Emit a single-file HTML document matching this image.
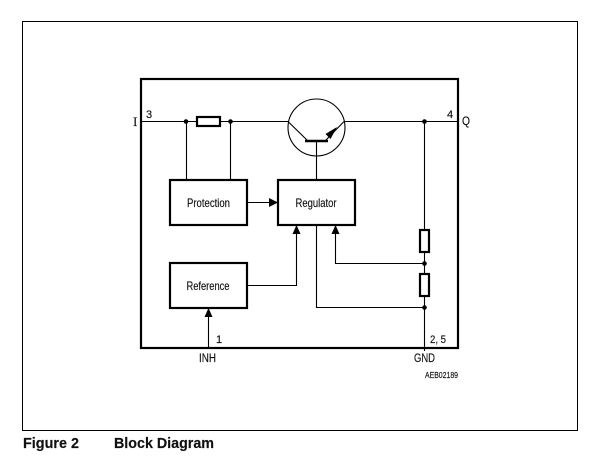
<!DOCTYPE html>
<html>
<head>
<meta charset="utf-8">
<style>
html,body{margin:0;padding:0;background:#fff;width:603px;height:459px;overflow:hidden}
svg{display:block}
text{font-family:"Liberation Sans",sans-serif;fill:#111;stroke:#111;stroke-width:0.15}
</style>
</head>
<body>
<svg width="603" height="459" viewBox="0 0 603 459" xmlns="http://www.w3.org/2000/svg">
<rect width="603" height="459" fill="#fff"/>
<rect x="22.5" y="21.5" width="555" height="409" fill="none" stroke="#000" stroke-width="1"/>
<rect x="141" y="79" width="317" height="269" fill="none" stroke="#000" stroke-width="2.2"/>

<g fill="none" stroke="#000" stroke-width="1.1">
<path d="M141 121.5H197M220 121.5H288M345 121.5H458"/>
<path d="M186.5 121.5V180M230.5 121.5V180"/>
<circle cx="316.5" cy="127.5" r="28.5"/>
<path d="M288 121.5L308 141"/>
<path d="M344 121.5L325 141"/>
<path d="M316.5 141V180"/>
<path d="M247 202.5H270"/>
<path d="M247 285.5H296.5V233"/>
<path d="M335.5 233V263.5H424.5"/>
<path d="M316.5 224V307.5H424.5"/>
<path d="M424.5 121.5V230M424.5 252V274M424.5 296V351"/>
<path d="M208.5 348V314"/>
</g>

<g fill="#fff" stroke="#000" stroke-width="2.2">
<rect x="197" y="117" width="23" height="9"/>
<rect x="420" y="230" width="9" height="22"/>
<rect x="420" y="274" width="9" height="22"/>
<rect x="170" y="180" width="77" height="45"/>
<rect x="278" y="180" width="77" height="45"/>
<rect x="170" y="263" width="77" height="45"/>
</g>
<path d="M305 141H328" stroke="#000" stroke-width="2.4" fill="none"/>

<g fill="#000" stroke="none">
<circle cx="186" cy="121.5" r="2.3"/>
<circle cx="230.5" cy="121.5" r="2.3"/>
<circle cx="424.5" cy="121.5" r="2.3"/>
<circle cx="424.5" cy="263.5" r="2.3"/>
<circle cx="424.5" cy="307.5" r="2.3"/>
<path d="M278 202.5L269 198V207Z"/>
<path d="M296.5 225L292.5 234H300.5Z"/>
<path d="M335.5 225L331.5 234H339.5Z"/>
<path d="M208.5 308L204.5 317H212.5Z"/>
<path d="M337 127L325.5 134L330.5 139Z"/>
</g>

<text x="187" y="207" font-size="12" textLength="43" lengthAdjust="spacingAndGlyphs">Protection</text>
<text x="295.5" y="207" font-size="12" textLength="41" lengthAdjust="spacingAndGlyphs">Regulator</text>
<text x="186.5" y="290" font-size="12" textLength="43" lengthAdjust="spacingAndGlyphs">Reference</text>

<text x="133" y="126" font-size="13" style="font-family:'Liberation Serif',serif">I</text>
<text x="146" y="118" font-size="11">3</text>
<text x="447" y="118" font-size="11">4</text>
<text x="462" y="125" font-size="11.5" textLength="8" lengthAdjust="spacingAndGlyphs">Q</text>
<text x="216" y="343" font-size="11">1</text>
<text x="430" y="343" font-size="11" textLength="16" lengthAdjust="spacingAndGlyphs">2, 5</text>
<text x="199" y="362" font-size="11.5" textLength="17" lengthAdjust="spacingAndGlyphs">INH</text>
<text x="414" y="362" font-size="11.5" textLength="21" lengthAdjust="spacingAndGlyphs">GND</text>
<text x="425" y="378" font-size="8" textLength="33" lengthAdjust="spacingAndGlyphs">AEB02189</text>

<text x="23" y="448" font-size="14.5" font-weight="bold" textLength="56" lengthAdjust="spacingAndGlyphs">Figure 2</text>
<text x="114" y="448" font-size="14.5" font-weight="bold" textLength="100" lengthAdjust="spacingAndGlyphs">Block Diagram</text>
</svg>
</body>
</html>
